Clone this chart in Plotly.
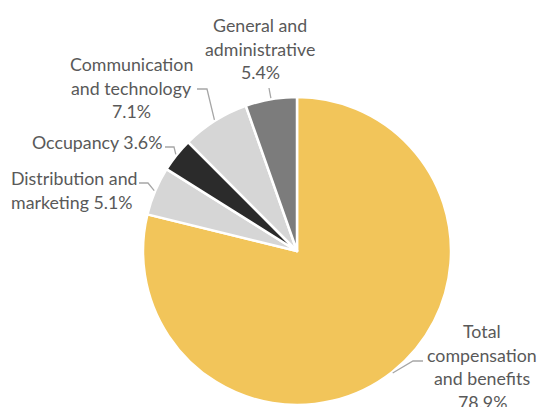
import math
import plotly.graph_objects as go

# Expense breakdown (share of total, %)
categories = [
    "Total compensation and benefits",
    "Distribution and marketing",
    "Occupancy",
    "Communication and technology",
    "General and administrative",
]
values = [78.9, 5.1, 3.6, 7.1, 5.4]
label_lines = [
    ["Total", "compensation", "and benefits", "{v}%"],
    ["Distribution and", "marketing {v}%"],
    ["Occupancy {v}%"],
    ["Communication", "and technology", "{v}%"],
    ["General and", "administrative", "{v}%"],
]
colors = ["#F2C55A", "#D6D6D6", "#2B2B2B", "#D6D6D6", "#7C7C7C"]

W, H = 537, 407
CX, CY, R = 297, 251, 154  # pie centre / radius in pixels

# label layout: first-line centre (px), anchor, leader elbow points
label_layout = [
    dict(x=482, y=331, anchor="center", elbow=[(413, 361), (423, 361)]),
    dict(x=9, y=178, anchor="left", elbow=[(148, 183), (139, 183)]),
    dict(x=97, y=142, anchor="center", elbow=[(174, 147), (165, 147)]),
    dict(x=131, y=64, anchor="center", elbow=[(207, 89), (197, 89)]),
    dict(x=260, y=25, anchor="center", elbow=[(269, 88)]),
]
LINE_STEP = 23.7
TEXT_COLOR = "#595959"
LEADER_COLOR = "#A6A6A6"
FONT = "Lato"
FONT_SIZE = 17.8


def px(x):
    return x / W


def py(y):
    return 1 - y / H


fig = go.Figure(
    go.Pie(
        labels=categories,
        values=values,
        sort=False,
        direction="clockwise",
        rotation=0,
        textinfo="none",
        hoverinfo="label+percent",
        marker=dict(colors=colors, line=dict(color="white", width=2.5)),
        domain=dict(x=[px(CX - R), px(CX + R)], y=[py(CY + R), py(CY - R)]),
        showlegend=False,
    )
)

annotations = []
shapes = []
total = sum(values)
cum = 0.0
for v, lines, lay in zip(values, label_lines, label_layout):
    mid = (cum + v / 2) / total * 2 * math.pi
    cum += v
    # leader line from the slice's outer edge at its mid-angle
    sx = CX + (R + 1) * math.sin(mid)
    sy = CY - (R + 1) * math.cos(mid)
    pts = [(sx, sy)] + lay["elbow"]
    path = "M " + " L ".join(f"{px(a):.5f},{py(b):.5f}" for a, b in pts)
    shapes.append(dict(type="path", xref="paper", yref="paper", path=path,
                       line=dict(color=LEADER_COLOR, width=1.3)))
    for i, t in enumerate(lines):
        annotations.append(dict(
            x=px(lay["x"]), y=py(lay["y"] + i * LINE_STEP),
            xref="paper", yref="paper", xanchor=lay["anchor"], yanchor="middle",
            text=t.format(v=v), showarrow=False,
            font=dict(family=FONT, size=FONT_SIZE, color=TEXT_COLOR),
        ))

fig.update_layout(
    width=W, height=H,
    margin=dict(l=0, r=0, t=0, b=0),
    paper_bgcolor="white",
    plot_bgcolor="white",
    annotations=annotations,
    shapes=shapes,
)

fig.write_html("out.html")
